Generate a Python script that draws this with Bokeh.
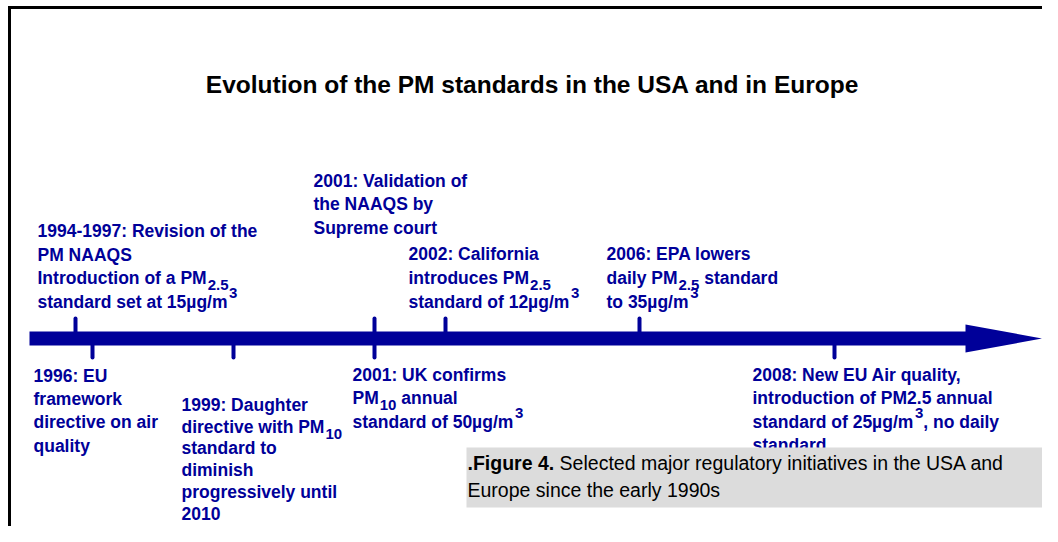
from bokeh.plotting import figure
from bokeh.models import Range1d, ColumnDataSource
from bokeh.core.properties import value
from bokeh.embed import file_html
from bokeh.resources import INLINE

# ---------------- data ----------------
TITLE = "Evolution of the PM standards in the USA and in Europe"

event_years = ["1994-1997", "1996", "1999", "2001", "2001", "2002", "2006", "2008"]
event_pos = [75, 92, 233, 374, 374, 445, 639, 834]          # position along the timeline
event_side = ["above", "below", "below", "above", "below", "above", "above", "below"]

# each event: list of lines, each line a list of (text, kind) pieces; kind n=normal, sub, sup
event_text = [
    [[("1994-1997: Revision of the", "n")],
     [("PM NAAQS", "n")],
     [("Introduction of a PM", "n"), ("2.5", "sub")],
     [("standard set at 15µg/m", "n"), ("3", "sup")]],
    [[("1996: EU", "n")],
     [("framework", "n")],
     [("directive on air", "n")],
     [("quality", "n")]],
    [[("1999: Daughter", "n")],
     [("directive with PM", "n"), ("10", "sub")],
     [("standard to", "n")],
     [("diminish", "n")],
     [("progressively until", "n")],
     [("2010", "n")]],
    [[("2001: Validation of", "n")],
     [("the NAAQS by", "n")],
     [("Supreme court", "n")]],
    [[("2001: UK confirms", "n")],
     [("PM", "n"), ("10", "sub"), (" annual", "n")],
     [("standard of 50µg/m", "n"), ("3", "sup")]],
    [[("2002: California", "n")],
     [("introduces PM", "n"), ("2.5", "sub")],
     [("standard of 12µg/m", "n"), ("3", "sup")]],
    [[("2006: EPA lowers", "n")],
     [("daily PM", "n"), ("2.5", "sub"), (" standard", "n")],
     [("to 35µg/m", "n"), ("3", "sup")]],
    [[("2008: New EU Air quality,", "n")],
     [("introduction of PM2.5 annual", "n")],
     [("standard of 25µg/m", "n"), ("3", "sup"), (", no daily", "n")],
     [("standard", "n")]],
]

CAPTION_BOLD = ".Figure 4."
CAPTION_LINES = ["Selected major regulatory initiatives in the USA and",
                 "Europe since the early 1990s"]

# ---------------- layout ----------------
label_x = [37, 33, 181, 313, 352, 408, 606, 752]
label_y0 = [237, 382, 411, 187, 381, 260, 260, 381]   # first baseline
label_lh = [23.7, 23.3, 21.8, 23.5, 23.5, 24, 24, 23.5]
BLUE = "#000099"
FONT = "Liberation Sans"
SIZE, SUBSIZE = 17.5, 15
TEXT_K = 0.38   # baseline correction (fraction of font size)

WB = {' ': 278, ':': 333, ',': 278, '.': 278, '-': 333, '/': 278, 'µ': 611}
for c in "0123456789":
    WB[c] = 556
WB.update(dict(zip("ABCDEFGHIJKLMNOPQRSTUVWXYZ",
                   [722, 722, 722, 722, 667, 611, 778, 722, 278, 556, 722, 611, 833, 722, 778, 667, 778, 722, 667, 611, 722, 667, 944, 667, 667, 611])))
WB.update(dict(zip("abcdefghijklmnopqrstuvwxyz",
                   [556, 611, 556, 611, 556, 333, 611, 611, 278, 278, 556, 278, 889, 611, 611, 611, 611, 389, 556, 333, 611, 556, 778, 556, 556, 500])))


def tw(s, size):
    return sum(WB.get(c, 556) for c in s) * size / 1000.0


def ty(y, size):
    return y - TEXT_K * size


p = figure(width=1042, height=526, output_backend="svg", toolbar_location=None,
           x_range=Range1d(0, 1042), y_range=Range1d(526, 0), min_border=0)
p.axis.visible = False
p.grid.visible = False
p.outline_line_color = None
p.background_fill_color = "white"

# frame
p.segment(x0=[7.5], y0=[7], x1=[1042], y1=[7], line_color="black", line_width=3)
p.segment(x0=[9], y0=[5.5], x1=[9], y1=[526], line_color="black", line_width=3)

# title
TSIZE = 24.5
p.text(x=[532], y=[ty(93, TSIZE)], text=[TITLE], text_font=value(FONT), text_font_style="bold",
       text_font_size=f"{TSIZE}px", text_align="center", text_baseline="alphabetic",
       text_color="black")

# timeline bar + arrow head
BAR_Y, BAR_H = 338, 14
p.quad(left=[29], right=[967], top=[BAR_Y - BAR_H / 2], bottom=[BAR_Y + BAR_H / 2],
       fill_color=BLUE, line_color=None)
p.patch(x=[965, 1042, 965], y=[324, BAR_Y, 352], fill_color=BLUE, line_color=None)

# ticks
tick_end = [318 if s == "above" else 357 for s in event_side]
p.segment(x0=event_pos, y0=[BAR_Y] * len(event_pos), x1=event_pos, y1=tick_end,
          line_color=BLUE, line_width=4, line_cap="round")

# labels
norm = dict(x=[], y=[], t=[])
sub = dict(x=[], y=[], t=[])
for lines, x0, y0, lh in zip(event_text, label_x, label_y0, label_lh):
    for i, line in enumerate(lines):
        yb = y0 + i * lh
        x = x0
        for txt, kind in line:
            if kind == "n":
                stripped = txt.lstrip(" ")
                x += tw(txt[:len(txt) - len(stripped)], SIZE)
                norm["x"].append(x); norm["y"].append(ty(yb, SIZE)); norm["t"].append(stripped)
                x += tw(stripped, SIZE)
            else:
                sub["x"].append(x + 1)
                sub["y"].append(ty(yb + (6 if kind == "sub" else -10), SUBSIZE))
                sub["t"].append(txt)
                x += tw(txt, SUBSIZE) + 1

p.text(x="x", y="y", text="t", source=ColumnDataSource(norm), text_font=value(FONT),
       text_font_style="bold", text_font_size=f"{SIZE}px", text_color=BLUE,
       text_baseline="alphabetic", text_align="left")
p.text(x="x", y="y", text="t", source=ColumnDataSource(sub), text_font=value(FONT),
       text_font_style="bold", text_font_size=f"{SUBSIZE}px", text_color=BLUE,
       text_baseline="alphabetic", text_align="left")

# caption box
p.quad(left=[466], right=[1042], top=[447], bottom=[507], fill_color="#dcdcdc", line_color=None)
CAP_SIZE = 19.5
cx = 467
p.text(x=[cx], y=[ty(470, CAP_SIZE)], text=[CAPTION_BOLD], text_font=value(FONT),
       text_font_style="bold", text_font_size=f"{CAP_SIZE}px", text_color="black",
       text_baseline="alphabetic")
bold_w = tw(CAPTION_BOLD + " ", CAP_SIZE)
p.text(x=[cx + bold_w, cx], y=[ty(470, CAP_SIZE), ty(497, CAP_SIZE)], text=CAPTION_LINES,
       text_font=value(FONT), text_font_size=f"{CAP_SIZE}px", text_color="black",
       text_baseline="alphabetic")

open("out.html", "w").write(file_html(p, INLINE))
